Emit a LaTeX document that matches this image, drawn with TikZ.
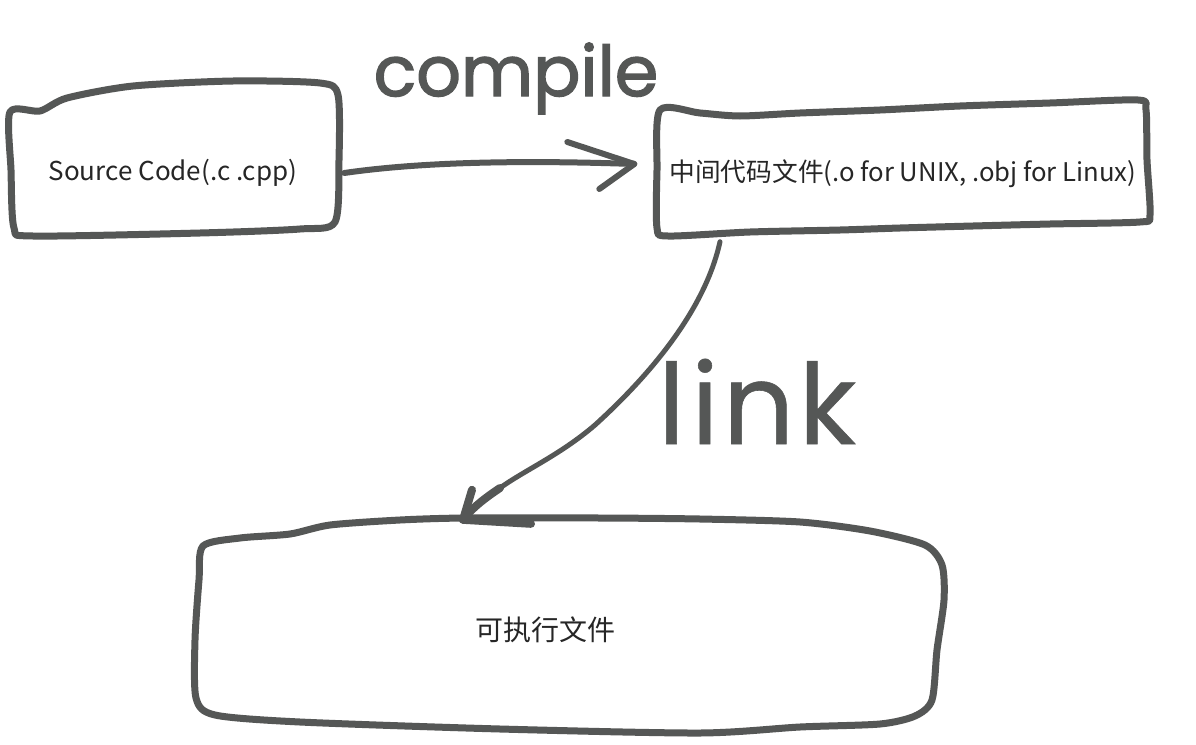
\documentclass[tikz,border=0pt]{standalone}
\usepackage{fontspec}
\setmainfont{Noto Sans CJK SC}
\newfontfamily\handfont[FakeBold=2]{Poppins}
\newfontfamily\handfontb[FakeBold=0.5]{Poppins}
\definecolor{ink}{HTML}{555756}
\definecolor{txt}{HTML}{262626}
\begin{document}
\begin{tikzpicture}[x=1pt,y=-1pt,
  outline/.style={draw=ink,line width=7pt,line join=round,line cap=round},
  wire/.style={draw=ink,line width=6pt,line join=round,line cap=round},
  boxtext/.style={text=txt,inner sep=0pt},
  hand/.style={text=ink,inner sep=0pt}]
\useasboundingbox (0,0) rectangle (1196,744);
\fill[white] (0,0) rectangle (1196,744);
% nodes (texts)
\node[boxtext,font=\fontsize{26}{30}\selectfont,minimum width=328pt,minimum height=130pt] (src) at (173,173) {Source Code(.c .cpp)};
\node[boxtext,font=\fontsize{25.7}{30}\selectfont,minimum width=491pt,minimum height=127pt] (obj) at (903,174) {中间代码文件(.o for UNIX, .obj for Linux)};
\node[boxtext,font=\fontsize{28}{32}\selectfont,minimum width=745pt,minimum height=200pt] (exe) at (545,630) {可执行文件};
% outlines
\draw[outline] plot[smooth cycle,tension=0.45] coordinates {
  (10,112) (40,111) (67,98) (133,86) (233,81) (320,83) (338,95)
  (339,160) (335,222) (300,229) (200,233) (33,236) (14,228) (11,170)};
\draw[outline] plot[smooth cycle,tension=0.45] coordinates {
  (660,110) (700,113) (740,116) (800,113) (880,110) (960,106) (1050,103) (1138,100)
  (1146,110) (1147,160) (1150,215) (1140,222) (1050,224) (973,226) (900,228)
  (840,230) (750,232) (668,236) (657,228) (657,170)};
\draw[outline] plot[smooth cycle,tension=0.45] coordinates {
  (203,546) (240,538) (290,534) (330,525) (400,520) (465,518) (600,518) (700,519)
  (800,522) (870,531) (925,545) (942,565) (944,600) (937,650) (932,700) (915,716)
  (880,724) (800,727) (700,733) (500,729) (300,722) (215,715) (196,698) (195,640) (199,580)};
% compile connector
\coordinate (c1) at ([xshift=7pt]src.east);
\coordinate (c2) at ([xshift=-23pt,yshift=10pt]obj.west);
\draw[wire] (c1) .. controls (420,162) and (520,160) .. (c2);
\draw[wire] ([xshift=-67pt,yshift=22pt]c2) -- (c2) -- ([xshift=-35pt,yshift=-25pt]c2);
% link connector
\coordinate (l1) at ([xshift=-183pt,yshift=-4pt]obj.south);
\coordinate (l2) at ([xshift=-82pt,yshift=10pt]exe.north);
\draw[wire,line width=5pt] (l1) .. controls (705,310) and (650,375) .. (595,425)
  .. controls (560,455) and (525,470) .. (500,488);
\draw[wire,line width=8pt] (500,488) .. controls (485,498) and (472,508) .. (l2);
\draw[wire,line width=8pt] ([xshift=9pt,yshift=30pt]l2) -- (l2) -- ([xshift=68pt,yshift=-4pt]l2);
% handwritten labels
\node[hand,anchor=base,font=\handfont\fontsize{70}{80}\selectfont] (lblc) at (516,96) {compile};
\node[hand,anchor=base,font=\handfontb\fontsize{112}{130}\selectfont] (lbll) at (757,444) {l\hspace{6pt}i\hspace{4pt}n\hspace{4pt}k};
\end{tikzpicture}
\end{document}
